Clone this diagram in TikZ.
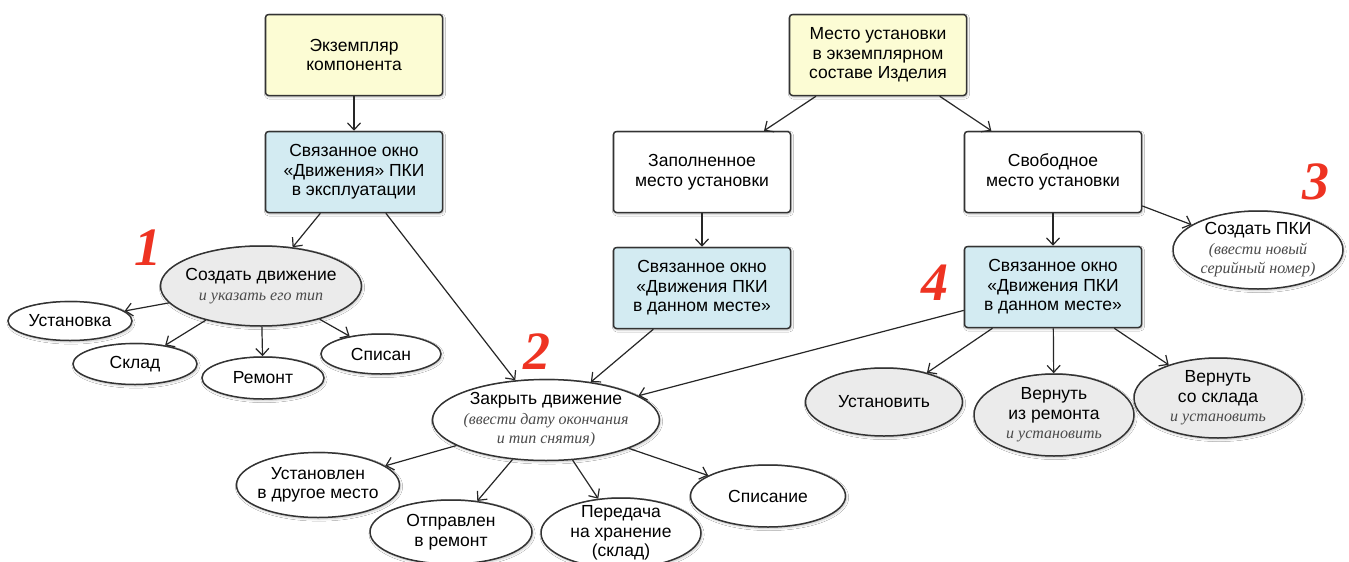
\documentclass[tikz,border=0pt]{standalone}
\usepackage{fontspec}
\setmainfont{Liberation Sans}
\newfontfamily\serifit{Liberation Serif}
\usepackage{xcolor}
\usetikzlibrary{arrows.meta,shapes.geometric,shadows.blur}
\definecolor{instfill}{HTML}{FCFCD4}
\definecolor{winfill}{HTML}{D3EBF2}
\definecolor{actfill}{HTML}{EBEBEB}
\definecolor{frame}{HTML}{333333}
\definecolor{hintgray}{HTML}{4A4A4A}
\definecolor{stepred}{HTML}{EE3322}
\tikzset{
  box/.style={
    rectangle,
    rounded corners=3pt,
    draw=frame,
    line width=1.5pt,
    fill=white,
    blur shadow={shadow blur steps=4, shadow xshift=1pt, shadow yshift=-1.5pt, shadow opacity=25},
    align=center,
    font=\fontsize{17.5}{19.5}\selectfont,
    inner sep=2pt,
    minimum width=177pt,
    minimum height=81pt
  },
  oval/.style={
    ellipse,
    draw=frame,
    line width=1.5pt,
    fill=white,
    blur shadow={shadow blur steps=4, shadow xshift=1pt, shadow yshift=-1.5pt, shadow opacity=25},
    align=center,
    font=\fontsize{17.5}{19.5}\selectfont,
    inner xsep=-10pt,
    inner ysep=-5pt
  },
  instance/.style={fill=instfill},
  window/.style={fill=winfill},
  action/.style={fill=actfill},
  link/.style={line width=1.2pt, draw=black!85, -{Straight Barb[length=7pt,width=13pt]}},
  stepno/.style={font=\serifit\fontsize{54}{54}\selectfont\bfseries\itshape, text=stepred}
}
\newcommand{\hint}[1]{{\serifit\itshape\fontsize{16}{19.5}\selectfont\color{hintgray}#1}}

\begin{document}
\begin{tikzpicture}[x=1pt,y=-1pt]
\useasboundingbox (0,0) rectangle (1349,562);
\fill[white] (0,0) rectangle (1349,562);

% upper boxes
\node[box, instance] (ekz) at (354,55) {Экземпляр\\компонента};
\node[box, window] (okno1) at (354,172) {Связанное окно\\«Движения» ПКИ\\в эксплуатации};
\node[box, instance] (mesto) at (878,55) {Место установки\\в экземплярном\\составе Изделия};
\node[box] (zap) at (702,172) {Заполненное\\место установки};
\node[box] (svob) at (1053,172) {Свободное\\место установки};
\node[box, window] (okno2) at (702,288) {Связанное окно\\«Движения ПКИ\\в данном месте»};
\node[box, window] (okno3) at (1053,287) {Связанное окно\\«Движения ПКИ\\в данном месте»};

% actions
\node[oval, action, minimum width=201pt, minimum height=80pt] (sozd) at (261,286) {Создать движение\\\hint{и указать его тип}};
\node[oval, minimum width=124pt, minimum height=39pt] (ust) at (70,321) {Установка};
\node[oval, minimum width=124pt, minimum height=41pt] (skl) at (135,364) {Склад};
\node[oval, minimum width=122pt, minimum height=42pt] (rem) at (263,378) {Ремонт};
\node[oval, minimum width=120pt, minimum height=40pt] (spis) at (381,354) {Списан};

\node[oval, minimum width=227pt, minimum height=81pt] (zakr) at (546,420) {Закрыть движение\\\hint{(ввести дату окончания}\\\hint{и тип снятия)}};
\node[oval, minimum width=163pt, minimum height=65pt] (drug) at (318,485) {Установлен\\в другое место};
\node[oval, minimum width=162pt, minimum height=64pt] (otpr) at (451,532) {Отправлен\\в ремонт};
\node[oval, minimum width=160pt, minimum height=70pt] (hran) at (621,533) {Передача\\на хранение\\(склад)};
\node[oval, minimum width=155pt, minimum height=62pt] (spisn) at (768,496) {Списание};

\node[oval, minimum width=170pt, minimum height=78pt] (pki) at (1258,250) {Создать ПКИ\\\hint{(ввести новый}\\\hint{серийный номер)}};

\node[oval, action, minimum width=157pt, minimum height=68pt] (ustv) at (884,402) {Установить};
\node[oval, action, minimum width=160pt, minimum height=82pt] (vrem) at (1054,415) {Вернуть\\из ремонта\\\hint{и установить}};
\node[oval, action, minimum width=168pt, minimum height=80pt] (vskl) at (1218,398) {Вернуть\\со склада\\\hint{и установить}};

% step numbers
\node[stepno] (n1) at (148,248) {1};
\node[stepno] (n2) at (537,352) {2};
\node[stepno] (n3) at (1316,182) {3};
\node[stepno] (n4) at (935,283) {4};

\draw[link] (ekz) -- (okno1);
\draw[link] (okno1) -- (sozd);
\draw[link] (okno1) -- (zakr);
\draw[link] (sozd) -- (ust);
\draw[link] (sozd) -- (skl);
\draw[link] (sozd) -- (rem);
\draw[link] (sozd) -- (spis);
\draw[link] (mesto) -- (zap);
\draw[link] (mesto) -- (svob);
\draw[link] (zap) -- (okno2);
\draw[link] (svob) -- (okno3);
\draw[link] (svob) -- (pki);
\draw[link] (okno2) -- (zakr);
\draw[link] (okno3) -- (zakr);
\draw[link] (okno3) -- (ustv);
\draw[link] (okno3) -- (vrem);
\draw[link] (okno3) -- (vskl);
\draw[link] (zakr) -- (drug);
\draw[link] (zakr) -- (otpr);
\draw[link] (zakr) -- (hran);
\draw[link] (zakr) -- (spisn);

\end{tikzpicture}
\end{document}
